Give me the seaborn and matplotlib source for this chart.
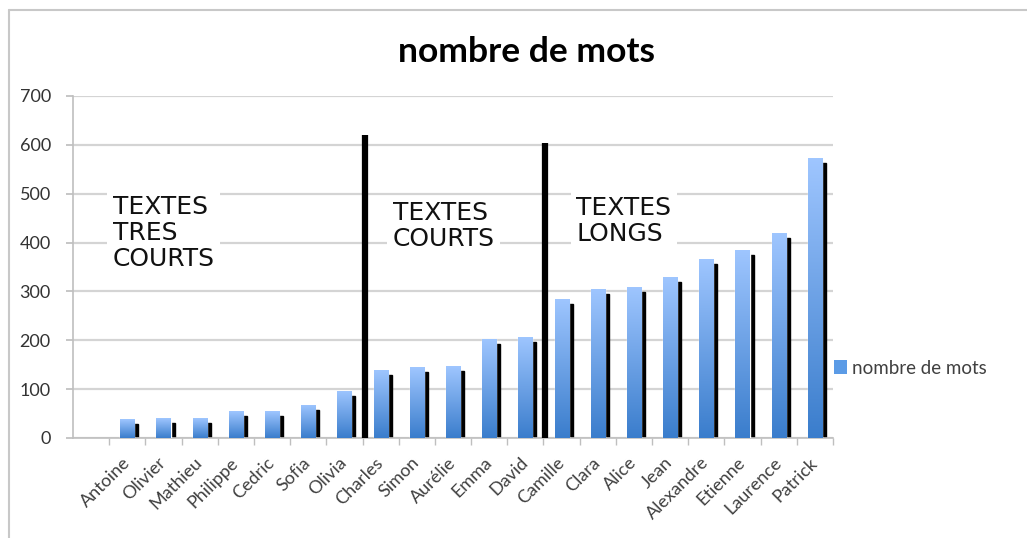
import numpy as np
import pandas as pd
import matplotlib
matplotlib.use("Agg")
import matplotlib.pyplot as plt
import seaborn as sns
from matplotlib.colors import LinearSegmentedColormap
from matplotlib.patches import Rectangle, Patch
from matplotlib.lines import Line2D

# donnees
prenoms = ["Antoine", "Olivier", "Mathieu", "Philippe", "Cedric", "Sofia", "Olivia",
           "Charles", "Simon", "Aurélie", "Emma", "David", "Camille", "Clara", "Alice",
           "Jean", "Alexandre", "Etienne", "Laurence", "Patrick"]
nb_mots = [38, 40, 40, 55, 55, 68, 97, 140, 145, 147, 203, 207,
           285, 305, 310, 330, 367, 385, 420, 573]

# separations entre les groupes de textes
separateurs = [6.57, 11.54]
hauteurs_sep = [620, 604]
groupes = ["TEXTES\nTRES\nCOURTS", "TEXTES\nCOURTS", "TEXTES\nLONGS"]
groupes_x = [-0.4, 7.34, 12.4]
groupes_y = [497, 485, 495]

df = pd.DataFrame({"prenom": prenoms, "mots": nb_mots})

sns.set_theme(style="white")
plt.rcParams["font.family"] = ["Lato", "DejaVu Sans"]

W, H = 1027, 538
fig = plt.figure(figsize=(W / 100, H / 100), dpi=100)
ax = fig.add_axes([73 / W, 1 - 438 / H, (833 - 73) / W, (438 - 96) / H])

sns.barplot(data=df, x="prenom", y="mots", color="#5b9be6", width=0.39,
            saturation=1, ax=ax, zorder=3)

grad = LinearSegmentedColormap.from_list("bleu", ["#3a7dcc", "#9fc6ff"])
dx_sh = 4 / 36.19
dy_sh = 5 / 48.86 * 100
img = np.linspace(0, 1, 256).reshape(-1, 1)
for p in list(ax.patches):
    x0, w, h = p.get_x(), p.get_width(), p.get_height()
    ax.add_patch(Rectangle((x0 + dx_sh, 0), w, h - dy_sh, color="black", zorder=2))
    im = ax.imshow(img, cmap=grad, origin="lower", aspect="auto",
                   extent=(x0, x0 + w, 0, h), zorder=4)
    im.set_clip_path(p)

ax.vlines(separateurs, 0, hauteurs_sep, color="black", lw=4.5, zorder=5)

for txt, tx, ty in zip(groupes, groupes_x, groupes_y):
    ax.text(tx, ty, txt, family="DejaVu Sans", fontsize=18, color="#111111",
            ha="left", va="top", linespacing=1.1, zorder=6,
            bbox=dict(facecolor="white", edgecolor="none", pad=4))

ax.set_xlim(-1.5, 19.5)
ax.set_ylim(0, 700)
ax.set_yticks(range(0, 701, 100))
ax.yaxis.grid(True, color="#d4d4d4", lw=1.6, zorder=0)
ax.set_axisbelow(True)
ax.set_xlabel("")
ax.set_ylabel("")

for s in ["top", "right"]:
    ax.spines[s].set_visible(False)
for s in ["left", "bottom"]:
    ax.spines[s].set_color("#bfbfbf")
    ax.spines[s].set_linewidth(1.2)

ax.set_xticks(np.arange(-0.5, 19.6, 1), minor=True)
ax.tick_params(axis="x", which="minor", length=5, color="#bfbfbf", direction="out", bottom=True)
ax.tick_params(axis="x", which="major", length=0, pad=16)
ax.tick_params(axis="y", length=5, color="#bfbfbf", direction="out", left=True,
               pad=11, labelsize=13, labelcolor="#333333")
ax.set_xticks(range(len(prenoms)))
ax.set_xticklabels(prenoms, rotation=45, ha="right", va="center",
                   rotation_mode="anchor", fontsize=13, color="#404040")

fig.text(527 / W, 1 - 52 / H, "nombre de mots", ha="center", va="center",
         fontsize=25.5, fontweight="bold", color="black")

leg = ax.legend(handles=[Patch(facecolor="#5b9be6", edgecolor="none", label="nombre de mots")],
                loc="center left", bbox_to_anchor=(834 / W, 1 - 368 / H),
                bbox_transform=fig.transFigure, frameon=False, fontsize=13.5,
                handlelength=0.7, handleheight=0.7, handletextpad=0.25, borderpad=0,
                borderaxespad=0)
for t in leg.get_texts():
    t.set_color("#404040")

fig.add_artist(Line2D([9 / W, 9 / W], [0, 1 - 10 / H], color="#c8c8c8", lw=1.5))
fig.add_artist(Line2D([9 / W, 1], [1 - 10 / H, 1 - 10 / H], color="#c8c8c8", lw=1.5))

fig.savefig("out.png", dpi=100, facecolor="white")
